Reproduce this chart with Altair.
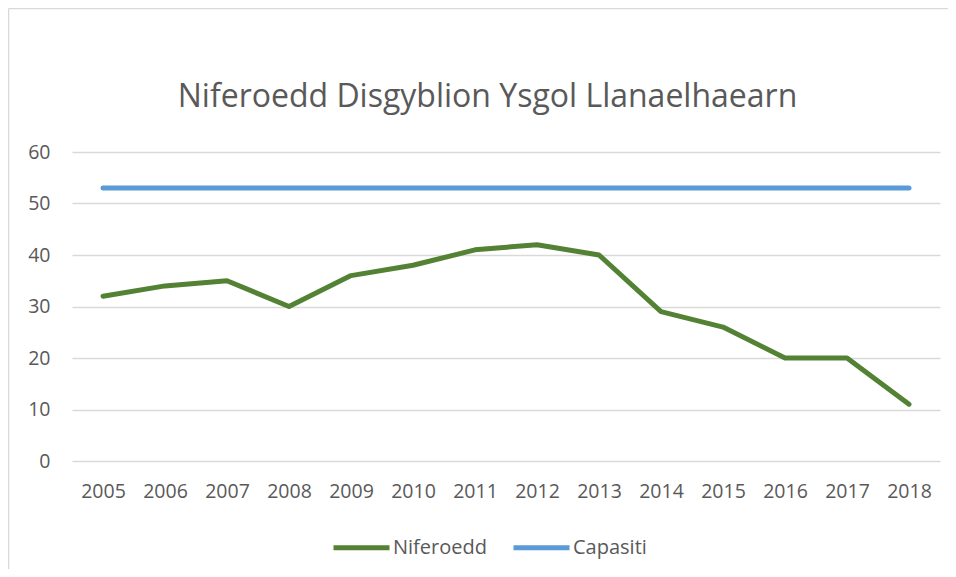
import altair as alt
import pandas as pd

years = ["2005", "2006", "2007", "2008", "2009", "2010", "2011",
         "2012", "2013", "2014", "2015", "2016", "2017", "2018"]
niferoedd = [32, 34, 35, 30, 36, 38, 41, 42, 40, 29, 26, 20, 20, 11]
capasiti = [53] * 14
series_names = ["Niferoedd", "Capasiti"]
series_colors = ["#548235", "#5B9BD5"]
y_ticks = [0, 10, 20, 30, 40, 50, 60]
title_text = "Niferoedd Disgyblion Ysgol Llanaelhaearn"

df = pd.DataFrame({
    "Blwyddyn": years * 2,
    "Gwerth": niferoedd + capasiti,
    "Cyfres": [series_names[0]] * len(years) + [series_names[1]] * len(years),
})

FONT = "Open Sans"
TXT = "#595959"
one = pd.DataFrame({"t": [title_text]})

lines = alt.Chart(df).mark_line(strokeWidth=5, strokeCap="round", strokeJoin="round").encode(
    x=alt.X("Blwyddyn:O", sort=years, title=None,
            scale=alt.Scale(type="point", padding=0.5),
            axis=alt.Axis(labelAngle=0, domain=False, ticks=False, grid=False,
                          labelPadding=21, labelFontSize=19.5, labelColor=TXT, labelFont=FONT)),
    y=alt.Y("Gwerth:Q", title=None,
            scale=alt.Scale(domain=[0, 60], nice=False),
            axis=alt.Axis(values=y_ticks, domain=False, ticks=False, grid=True,
                          gridColor="#D9D9D9", gridWidth=1.3,
                          labelPadding=22, labelFontSize=19.5, labelColor=TXT, labelFont=FONT)),
    color=alt.Color("Cyfres:N", sort=series_names,
                    scale=alt.Scale(domain=series_names, range=series_colors),
                    legend=alt.Legend(title=None, orient="none", direction="horizontal",
                                      legendX=259, legendY=365,
                                      symbolType="stroke", symbolSize=3136,
                                      symbolStrokeWidth=5, labelOffset=1,
                                      columnPadding=16, labelFontSize=20,
                                      labelColor=TXT, labelFont=FONT)),
)

title_mark = alt.Chart(one).mark_text(
    fontSize=32, font=FONT, color=TXT, align="center", baseline="alphabetic"
).encode(text="t:N", x=alt.value(415.5), y=alt.value(-45))

border_top = alt.Chart(one).mark_rule(color="#D9D9D9", strokeWidth=1.5).encode(
    x=alt.value(-63.5), x2=alt.value(890), y=alt.value(-143.5), y2=alt.value(-143.5))
border_left = alt.Chart(one).mark_rule(color="#D9D9D9", strokeWidth=1.5).encode(
    x=alt.value(-63.5), x2=alt.value(-63.5), y=alt.value(-143.5), y2=alt.value(417))

chart = alt.layer(border_top, border_left, title_mark, lines).properties(
    width=868, height=309,
    background="white",
    autosize=alt.AutoSizeParams(type="none"),
    padding={"left": 64, "top": 144, "right": 8, "bottom": 108},
).configure_view(strokeWidth=0)

chart.save("out.html", embed_options={"renderer": "svg", "actions": False})
